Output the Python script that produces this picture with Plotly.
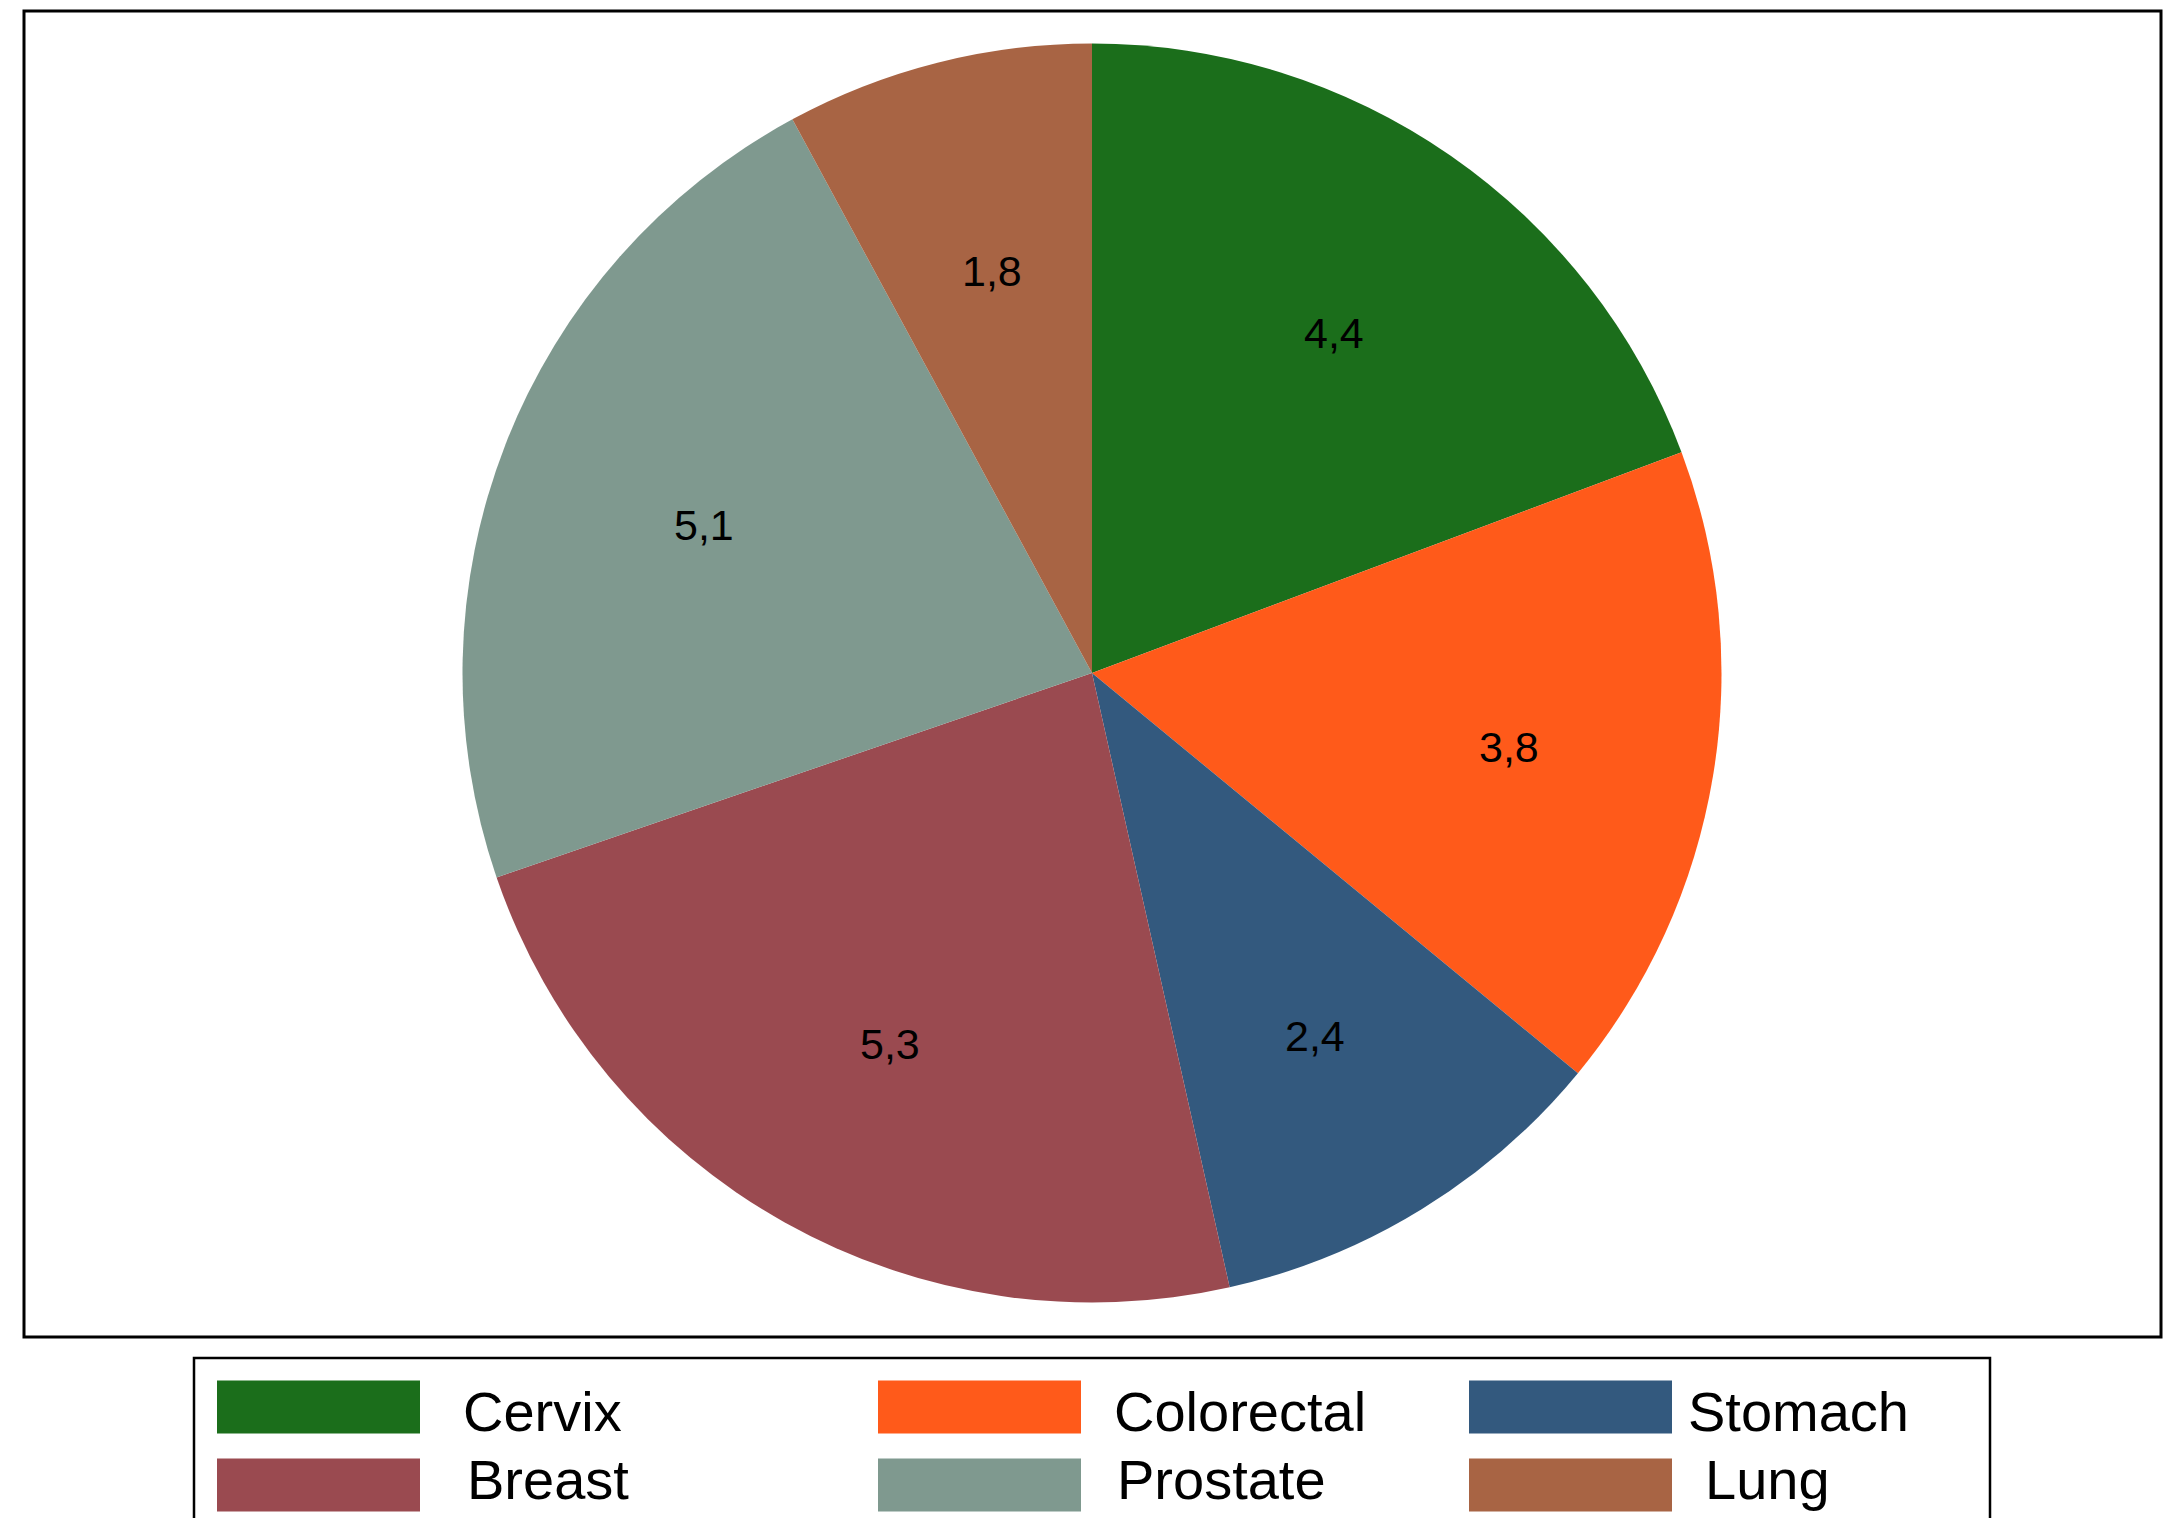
import math
import plotly.graph_objects as go

# Cancer sites and their shares
sites = ["Cervix", "Colorectal", "Stomach", "Breast", "Prostate", "Lung"]
values = [4.4, 3.8, 2.4, 5.3, 5.1, 1.8]
colors = ["#1b6e1b", "#ff5a1a", "#33597e", "#9a4a50", "#7f998f", "#a86444"]

W, H = 2171, 1518
FONT = "Liberation Sans, Arial, sans-serif"

# pie placement in pixels
cx, cy, R = 1092, 673, 629.5
dom_x = [(cx - R) / W, (cx + R) / W]
dom_y = [1 - (cy + R) / H, 1 - (cy - R) / H]

fig = go.Figure(
    go.Pie(
        labels=sites,
        values=values,
        sort=False,
        direction="clockwise",
        rotation=0,
        marker=dict(colors=colors, line=dict(width=0)),
        textinfo="none",
        hoverinfo="label+value",
        domain=dict(x=dom_x, y=dom_y),
        showlegend=False,
    )
)

# value labels at two-thirds of the radius, at each slice's mid-angle
total = sum(values)
cum = 0.0
annotations = []
for v in values:
    mid = (cum + v / 2) / total * 2 * math.pi
    cum += v
    px = cx + 0.667 * R * math.sin(mid) + 3
    py = cy - 0.667 * R * math.cos(mid) + 5
    annotations.append(
        dict(
            x=px / W, y=1 - py / H, xref="paper", yref="paper",
            text=f"{v:.1f}".replace(".", ","), showarrow=False,
            font=dict(family=FONT, size=43, color="black"),
            xanchor="center", yanchor="middle",
        )
    )

shapes = [
    # plot region frame
    dict(type="rect", xref="paper", yref="paper",
         x0=24 / W, x1=2161 / W, y0=1 - 1337 / H, y1=1 - 11 / H,
         line=dict(color="black", width=3), fillcolor="rgba(0,0,0,0)"),
    # legend frame
    dict(type="rect", xref="paper", yref="paper",
         x0=194 / W, x1=1990 / W, y0=-0.02, y1=1 - 1358 / H,
         line=dict(color="black", width=2.5), fillcolor="rgba(0,0,0,0)"),
]

# legend: three columns, two rows
sw_x = [217, 878, 1469]
txt_x = [[461, 1112, 1686], [465, 1115, 1703]]
row_y = [1407, 1485]
txt_y = [1411, 1479]
sw_w, sw_h = 203, 53
for i, (name, col) in enumerate(zip(sites, colors)):
    r, c = divmod(i, 3)
    yc = row_y[r]
    shapes.append(dict(
        type="rect", xref="paper", yref="paper",
        x0=sw_x[c] / W, x1=(sw_x[c] + sw_w) / W,
        y0=1 - (yc + sw_h / 2) / H, y1=1 - (yc - sw_h / 2) / H,
        line=dict(width=0), fillcolor=col,
    ))
    annotations.append(dict(
        x=txt_x[r][c] / W, y=1 - txt_y[r] / H, xref="paper", yref="paper",
        text=name, showarrow=False, xanchor="left", yanchor="middle",
        font=dict(family=FONT, size=56, color="black"),
    ))

fig.update_layout(
    width=W, height=H,
    margin=dict(l=0, r=0, t=0, b=0),
    paper_bgcolor="white", plot_bgcolor="white",
    shapes=shapes, annotations=annotations,
)

fig.write_html("out.html")
